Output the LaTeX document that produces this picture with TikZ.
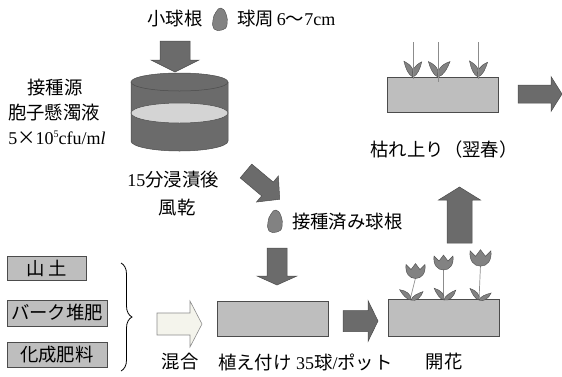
\documentclass[tikz,border=0pt]{standalone}
\usepackage{fontspec}
\setmainfont{Liberation Serif}
\newfontfamily\jp[Scale=1.02]{Noto Sans CJK JP}
\usetikzlibrary{decorations.pathreplacing}

\definecolor{arrowgray}{HTML}{6B6B6B}
\definecolor{edgegray}{HTML}{4C4C4C}
\definecolor{soilgray}{HTML}{BEBEBE}
\definecolor{liquidgray}{HTML}{D4D4D4}
\definecolor{leafgray}{HTML}{828282}
\definecolor{stemgray}{HTML}{8C8C8C}
\definecolor{paleyellow}{HTML}{F4F4EC}

% block arrow: style, x, y, angle, length, shaft half-width, head half-width, head length
\newcommand\blockarrow[8]{%
  \begin{scope}[shift={(#2,#3)},rotate=#4]
    \draw[#1] (0,-#6) -- (#5-#8,-#6) -- (#5-#8,-#7) -- (#5,0)
      -- (#5-#8,#7) -- (#5-#8,#6) -- (0,#6) -- cycle;
  \end{scope}}

\tikzset{
  lbl/.style={inner sep=0pt, font=\fontsize{18}{21}\selectfont},
  darkarrow/.style={fill=arrowgray, draw=edgegray, line width=0.5pt},
  palearrow/.style={fill=paleyellow, draw=black!45, line width=0.6pt},
  soilbox/.style={fill=soilgray, draw=edgegray, line width=0.6pt, inner sep=0pt},
  leafstyle/.style={fill=leafgray, draw=edgegray, line width=0.4pt},
  leaf/.pic={\draw[leafstyle] (0,0) .. controls (3,4.2) and (9,3.5) .. (14,0)
      .. controls (9,-1.5) and (3,-2.5) .. (0,0) -- cycle;},
  flower/.pic={\draw[leafstyle] (-9.5,-7) -- (-4.5,-2) -- (0,-8) -- (4.5,-2) -- (9.5,-7)
      .. controls (10.5,2) and (6,7) .. (0,7) .. controls (-6,7) and (-10.5,2) .. (-9.5,-7) -- cycle;},
  bulb/.pic={\draw[leafstyle] plot[smooth cycle, tension=0.8] coordinates
      {(1,-11) (6,-5) (7,6) (2,11) (-6,10) (-7,1) (-4,-7)};}
}

\begin{document}
\begin{tikzpicture}[x=1pt, y=-1pt]
\useasboundingbox (0,0) rectangle (562,376);

% bulb and its size
\node[lbl] (bulblabel) at (175,19) {\jp 小球根};
\pic at (220,19) {bulb};
\node[lbl, anchor=west] (sizelabel) at (237,19) {{\jp 球周}\,6{\jp ～}7cm};
\blockarrow{darkarrow}{175}{41}{-90}{31}{15}{24}{12}

% spore suspension
\node[lbl] (inoc) at (55,88) {\jp 接種源};
\node[lbl] (susp) at (54,113) {\jp 胞子懸濁液};
\node[lbl] (conc) at (57,138) {5{\jp ×}10{\fontsize{10}{12}\selectfont\raisebox{6.5pt}{5}}cfu/m\textit{l}};

% dipping vessel
\draw[fill=arrowgray, draw=edgegray, line width=0.5pt]
  (131,82) -- (131,141) arc[start angle=180, end angle=0, x radius=48.5, y radius=10]
  -- (228,82);
\draw[fill=arrowgray, draw=edgegray, line width=0.5pt] (179.5,82) ellipse[x radius=48.5, y radius=9];
\draw[fill=liquidgray, draw=edgegray, line width=0.5pt] (179.5,113) ellipse[x radius=48.5, y radius=10];

\node[lbl] (soak) at (173,180) {15{\jp 分浸漬後}};
\node[lbl] (dry) at (177,208) {\jp 風乾};
\blockarrow{darkarrow}{246}{171}{-40}{44}{9}{17}{16}

% inoculated bulb
\pic at (275,221) {bulb};
\node[lbl, anchor=west] (inoculated) at (292,222) {\jp 接種済み球根};
\blockarrow{darkarrow}{277}{248}{-90}{37}{10}{20}{9}

% potting mix
\node[soilbox, minimum width=79pt, minimum height=24pt, lbl] (yamatsuchi) at (46.5,268) {\jp 山\,土};
\node[soilbox, minimum width=100pt, minimum height=26pt, lbl] (bark) at (57,313) {\jp バーク堆肥};
\node[soilbox, minimum width=100pt, minimum height=25pt, lbl] (fert) at (57,354.5) {\jp 化成肥料};
\draw[decorate, decoration={brace, amplitude=11pt}, line width=0.8pt] (121,263) -- (121,371);
\blockarrow{palearrow}{157}{324}{0}{45}{11}{23}{12}
\node[lbl] (mix) at (180,362) {\jp 混合};

% planting
\node[soilbox, minimum width=111pt, minimum height=35pt] (pot) at (272.5,318.5) {};
\node[lbl, anchor=west] (plantlabel) at (218,362) {{\jp 植え付け} 35{\jp 球}/{\jp ポット}};
\blockarrow{darkarrow}{343}{321}{0}{35}{10.5}{20.5}{10}

% flowering
\node[soilbox, minimum width=111pt, minimum height=37pt] (bloombox) at (443.5,317.5) {};
\draw[stemgray, line width=0.7pt] (415.5,278) -- (410,300);
\draw[stemgray, line width=0.7pt] (443.5,270) -- (443.5,300);
\draw[stemgray, line width=0.7pt] (480.5,265) -- (479,300);
\pic[rotate=138, scale=1.1] at (411,300) {leaf};
\pic[rotate=35, scale=1.05] at (411,300) {leaf};
\pic[rotate=130, scale=1.1] at (444,300) {leaf};
\pic[rotate=40, scale=1.1] at (444,300) {leaf};
\pic[rotate=128, scale=1.05] at (479,300) {leaf};
\pic[rotate=30, scale=1.0] at (479,300) {leaf};
\pic at (415.5,271.5) {flower};
\pic at (443.5,263) {flower};
\pic[scale=1.1] at (480.5,258.5) {flower};
\node[lbl] (bloomlabel) at (444,362) {\jp 開花};
\blockarrow{darkarrow}{459.5}{243}{90}{56}{12.5}{21}{13}

% dying back
\node[lbl] (wither) at (444,150) {\jp 枯れ上り（翌春）};
\node[soilbox, minimum width=111pt, minimum height=35pt] (springbox) at (442.5,94.5) {};
\pic[rotate=120, scale=1.3] at (413,77) {leaf};
\pic[rotate=60, yscale=-1, scale=1.25] at (413,77) {leaf};
\pic[rotate=122, scale=1.3] at (438,77) {leaf};
\pic[rotate=52, yscale=-1, scale=1.4] at (438,77) {leaf};
\pic[rotate=118, scale=1.3] at (478,77) {leaf};
\pic[rotate=57, yscale=-1, scale=1.25] at (478,77) {leaf};
\draw[stemgray, line width=0.7pt] (413,42) -- (413,79);
\draw[stemgray, line width=0.7pt] (438,42) -- (438,82);
\draw[stemgray, line width=0.7pt] (478,42) -- (478,79);
\blockarrow{darkarrow}{518}{94}{0}{44}{9}{17.5}{11}
\end{tikzpicture}
\end{document}
